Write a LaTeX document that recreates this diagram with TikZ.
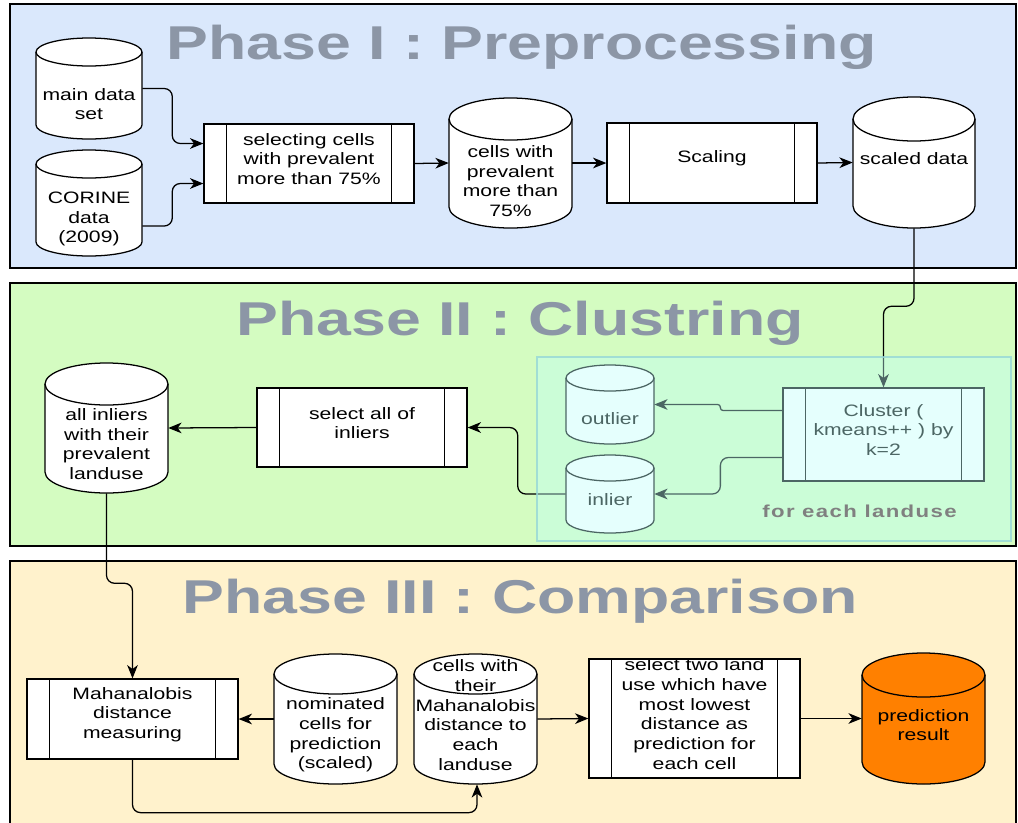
\documentclass[tikz,border=0pt]{standalone}
\usepackage{fontspec}
\setmainfont{Liberation Sans}[FakeStretch=1.28]
\newfontfamily\titlefont{Liberation Sans}[FakeStretch=1.32]
\usetikzlibrary{arrows.meta,calc}

\definecolor{phaseone}{RGB}{218,232,252}
\definecolor{phasetwo}{RGB}{212,252,193}
\definecolor{phasethree}{RGB}{255,242,204}
\definecolor{titlegray}{RGB}{140,150,166}
\definecolor{groupfill}{RGB}{190,255,250}
\definecolor{groupedge}{RGB}{150,215,215}
\definecolor{orangefill}{RGB}{255,128,0}
\definecolor{labelgray}{RGB}{128,128,128}

% one drawing unit = one pixel
\newcommand\pxu{0.75pt}

\tikzset{
  panel/.style={draw=black, line width=0.9pt},
  flow/.style={draw=black, line width=0.95pt, rounded corners=6pt,
    -{Stealth[length=10pt,width=8pt,inset=3pt]}},
  cylline/.style={draw=black, line width=0.95pt},
  anchorbox/.style={draw=none, fill=none, inner sep=0pt, rectangle},
  txt/.style={align=center, inner sep=0pt, font=\fontsize{12.4}{14.8}\selectfont},
  procbox/.style={draw=black, fill=white, line width=0.95pt, inner sep=0pt},
  phasetitle/.style={anchor=base, text=titlegray, inner sep=0pt,
    font=\titlefont\bfseries\fontsize{35.6}{40}\selectfont},
}

% database cylinder: name, cx, cy, width, height, ellipse radius, fill, text y, text
\newcommand\cylnode[9]{%
  \pgfmathsetmacro\cylL{#2-#4/2}%
  \pgfmathsetmacro\cylR{#2+#4/2}%
  \pgfmathsetmacro\cylT{#3-#5/2+#6}%
  \pgfmathsetmacro\cylB{#3+#5/2-#6}%
  \pgfmathsetmacro\cylRX{#4/2}%
  \path[cylline, fill=#7] (\cylL,\cylT) -- (\cylL,\cylB)
    arc[start angle=180, end angle=0, x radius=\cylRX, y radius=#6]
    -- (\cylR,\cylT)
    arc[start angle=0, end angle=-180, x radius=\cylRX, y radius=#6] -- cycle;
  \draw[cylline] (\cylL,\cylT)
    arc[start angle=180, end angle=0, x radius=\cylRX, y radius=#6];
  \node[anchorbox, minimum width=#4*\pxu, minimum height=#5*\pxu] (#1) at (#2,#3) {};
  \node[txt] (#1-text) at (#2,#8) {#9};
}

% predefined process box with side bars: name, cx, cy, width, height, text
\newcommand\processnode[6]{%
  \node[procbox, minimum width=#4*\pxu, minimum height=#5*\pxu] (#1) at (#2,#3) {};
  \draw[cylline] ($(#1.north west)+(23,0)$) -- ($(#1.south west)+(23,0)$);
  \draw[cylline] ($(#1.north east)+(-23,0)$) -- ($(#1.south east)+(-23,0)$);
  \node[txt] (#1-text) at ($(#1.center)+(0,-4.5)$) {#6};
}

\begin{document}
\begin{tikzpicture}[x=0.75pt,y=-0.75pt]
\useasboundingbox (0,0) rectangle (1018,822);
\fill[white] (0,0) rectangle (1018,822);

% phase panels
\path[panel, fill=phaseone] (10,4) rectangle (1016,268);
\path[panel, fill=phasetwo] (10,283) rectangle (1016,546);
\path[panel, fill=phasethree] (10,561) rectangle (1016,840);

\node[phasetitle] (title1) at (521.5,59) {Phase I : Preprocessing};
\node[phasetitle] (title2) at (520,335) {Phase II : Clustring};
\node[phasetitle] (title3) at (520,613) {Phase III : Comparison};

% ---- Phase I
\cylnode{main}{89}{88.5}{106}{101}{14}{white}{104}{main data\\set}
\cylnode{corine}{89}{203}{106}{106}{14}{white}{219}{CORINE\\data\\(2009)}
\processnode{select}{309}{163.5}{210}{79}{selecting cells\\with prevalent\\more than 75\%}
\cylnode{prev}{510.5}{163}{123}{130}{21}{white}{181}{cells with\\prevalent\\more than\\75\%}
\processnode{scaling}{712}{163}{210}{80}{Scaling}
\cylnode{scaled}{914}{162.5}{122}{131}{22}{white}{159}{scaled data}

\draw[flow] (main.east) -- ++(30,0) |- ($(select.west)+(0,-20)$);
\draw[flow] ($(corine.east)+(0,23)$) -- ++(30,0) |- ($(select.west)+(0,20)$);
\draw[flow] (select.east) -- (prev.west);
\draw[flow] (prev.east) -- (scaling.west);
\draw[flow] (scaling.east) -- (scaled.west);

% ---- Phase II
\processnode{cluster}{883.5}{434.5}{201}{93}{Cluster (\\kmeans++ ) by\\k=2}
\cylnode{outlier}{610}{404.5}{88}{79}{13}{white}{419}{outlier}
\cylnode{inlier}{610}{494}{88}{78}{13}{white}{500}{inlier}
\processnode{selinl}{362}{427.5}{210}{79}{select all of\\inliers}
\cylnode{allinl}{106.5}{428}{123}{130}{21}{white}{444}{all inliers\\with their\\prevalent\\landuse}

\draw[flow] (scaled.south) -- ++(0,78) -| (cluster.north);
\draw[flow, rounded corners=2pt] ($(cluster.west)+(0,-24)$) -- ++(-62,0) |- (outlier.east);
\draw[flow] ($(cluster.west)+(0,23)$) -- ++(-62,0) |- (inlier.east);
\draw[flow] (inlier.west) -- ++(-48,0) |- (selinl.east);
\draw[flow] (selinl.west) -- (allinl.east);

% translucent group over the per-landuse clustering
\node[draw=groupedge, draw opacity=0.8, fill=groupfill, fill opacity=0.4,
      line width=0.8pt, inner sep=0pt, minimum width=474*\pxu, minimum height=184*\pxu]
      (group) at (774,449) {};
\node[anchor=base, text=labelgray, inner sep=0pt,
      font=\bfseries\fontsize{13}{15}\selectfont\addfontfeature{LetterSpace=8}]
      (grouplabel) at (859.5,517) {for each landuse};

% ---- Phase III
\processnode{mahal}{132.5}{719}{211}{80}{Mahanalobis\\distance\\measuring}
\cylnode{nominated}{335.5}{719}{123}{130}{20}{white}{735}{nominated\\cells for\\prediction\\(scaled)}
\cylnode{withdist}{475.5}{719}{123}{130}{20}{white}{715}{cells with\\their\\Mahanalobis\\distance to\\each\\landuse}
\processnode{seltwo}{694.5}{718.5}{211}{119}{select two land\\use which have\\most lowest\\distance as\\prediction for\\each cell}
\cylnode{result}{923.5}{718.5}{123}{131}{22}{orangefill}{725}{prediction\\result}

\draw[flow] (allinl.south) -- ++(0,90) -| (mahal.north);
\draw[flow] (nominated.west) -- (mahal.east);
\draw[flow] (withdist.east) -- (seltwo.west);
\draw[flow] (seltwo.east) -- (result.west);
\draw[flow] (mahal.south) -- ++(0,53) -| ($(withdist.south)+(1.5,0)$);
\end{tikzpicture}
\end{document}
